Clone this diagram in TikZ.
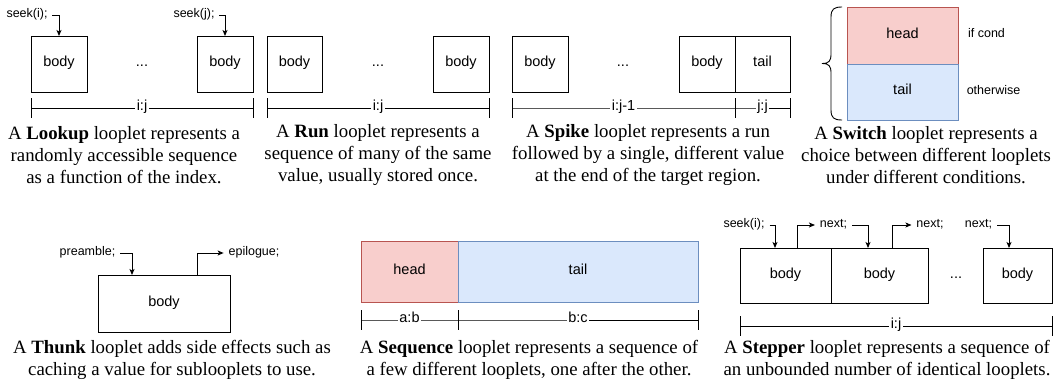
\documentclass[tikz,border=0pt]{standalone}
\usepackage{fontspec}
\setmainfont{Liberation Serif}
\setsansfont{Liberation Sans}
\usetikzlibrary{arrows.meta}
\definecolor{headfill}{HTML}{F8CECC}
\definecolor{headline}{HTML}{B85450}
\definecolor{tailfill}{HTML}{DAE8FC}
\definecolor{tailline}{HTML}{6C8EBF}
\begin{document}
\begin{tikzpicture}[x=1pt,y=-1pt,
  every node/.style={inner sep=0pt, outer sep=0pt},
  sf/.style={font=\sffamily\fontsize{14.5}{17}\selectfont, text height=0.72em, text depth=0.21em},
  sm/.style={font=\sffamily\fontsize{12.5}{15}\selectfont, text height=0.72em, text depth=0.21em, inner xsep=5pt},
  box/.style={draw, line width=0.9pt, sf},
  headbox/.style={box, fill=headfill, draw=headline},
  tailbox/.style={box, fill=tailfill, draw=tailline},
  rl/.style={sf, fill=white, inner xsep=1.5pt},
  captxt/.style={align=center, font=\fontsize{18.8}{22.2}\selectfont},
  arr/.style={line width=0.9pt, -{Stealth[length=6pt,width=5pt,inset=1.5pt]}},
  ln/.style={line width=0.9pt},
  tk/.style={line width=0.9pt},
]
\path[use as bounding box, fill=white] (0,0) rectangle (1064,380);

% ---------- Lookup ----------
\node[box,minimum width=56,minimum height=56] (L1) at (59,64) {body};
\node[box,minimum width=56,minimum height=56] (L2) at (225,64) {body};
\node[sf] (Ld) at (142,64) {...};
\node[sm] (Ls1) at (27,15) {seek(i);};
\node[sm] (Ls2) at (194,15) {seek(j);};
\draw[arr] (Ls1.east) -| (L1.north);
\draw[arr] (Ls2.east) -| (L2.north);
\coordinate (La) at (31,108);
\coordinate (Lb) at (253,108);
\draw[ln] (La) -- node[rl] {i:j} (Lb);
\draw[tk] ([yshift=10]La) -- ([yshift=-10]La);
\draw[tk] ([yshift=10]Lb) -- ([yshift=-10]Lb);
\node[captxt] (Lc) at (124,155) {A \textbf{Lookup} looplet represents a\\randomly accessible sequence\\as a function of the index.};

% ---------- Run ----------
\node[box,minimum width=55,minimum height=56] (R1) at (294.5,64) {body};
\node[box,minimum width=56,minimum height=56] (R2) at (461,64) {body};
\node[sf] (Rd) at (378,64) {...};
\coordinate (Ra) at (267,108);
\coordinate (Rb) at (489,108);
\draw[ln] (Ra) -- node[rl] {i:j} (Rb);
\draw[tk] ([yshift=10]Ra) -- ([yshift=-10]Ra);
\draw[tk] ([yshift=10]Rb) -- ([yshift=-10]Rb);
\node[captxt] (Rc) at (378,155) {A \textbf{Run} looplet represents a\\sequence of many of the same\\value, usually stored once.};

% ---------- Spike ----------
\node[box,minimum width=56,minimum height=56] (S1) at (540,64) {body};
\node[box,minimum width=56,minimum height=56] (S2) at (707,64) {body};
\node[box,minimum width=55,minimum height=56] (S3) at (762.5,64) {tail};
\node[sf] (Sd) at (623,64) {...};
\coordinate (Sa) at (512,108);
\coordinate (Sb) at (735,108);
\coordinate (Sc) at (790,108);
\draw[ln] (Sa) -- node[rl] {i:j-1} (Sb) -- node[rl] {j:j} (Sc);
\draw[tk] ([yshift=10]Sa) -- ([yshift=-10]Sa);
\draw[tk] ([yshift=10]Sb) -- ([yshift=-10]Sb);
\draw[tk] ([yshift=10]Sc) -- ([yshift=-10]Sc);
\node[captxt] (Sp) at (648,155) {A \textbf{Spike} looplet represents a run\\followed by a single, different value\\at the end of the target region.};

% ---------- Switch ----------
\node[headbox,minimum width=111,minimum height=57] (W1) at (902.5,35.5) {head};
\node[tailbox,minimum width=111,minimum height=56] (W2) at (902.5,92) {tail};
\node[sm] (Wc1) at (986.5,35) {if cond};
\node[sm] (Wc2) at (993.5,92) {otherwise};
\draw[ln] (842,7) .. controls (834,7) and (831,9) .. (831,17) -- (831,54)
  .. controls (831,61) and (829,63.5) .. (822,63.5)
  .. controls (829,63.5) and (831,66) .. (831,73) -- (831,110)
  .. controls (831,118) and (834,120) .. (842,120);
\node[captxt] (Wc) at (926,155) {A \textbf{Switch} looplet represents a\\choice between different looplets\\under different conditions.};

% ---------- Thunk ----------
\node[box,minimum width=132,minimum height=57] (T) at (164,303.5) {body};
\node[sm] (Tp) at (87.5,253) {preamble;};
\node[sm] (Te) at (254,253) {epilogue;};
\draw[arr] (Tp.east) -| ([xshift=-32]T.north);
\draw[arr] ([xshift=33]T.north) |- (Te.west);
\node[captxt] (Tc) at (172,360) {A \textbf{Thunk} looplet adds side effects such as\\caching a value for sublooplets to use.};

% ---------- Sequence ----------
\node[headbox,minimum width=97,minimum height=61] (Q1) at (409.5,271.5) {head};
\node[tailbox,minimum width=240,minimum height=61] (Q2) at (578,271.5) {tail};
\coordinate (Qa) at (361,320);
\coordinate (Qb) at (458,320);
\coordinate (Qc) at (698,320);
\draw[ln] (Qa) -- node[rl] {a:b} (Qb) -- node[rl] {b:c} (Qc);
\draw[tk] ([yshift=10]Qa) -- ([yshift=-10]Qa);
\draw[tk] ([yshift=10]Qb) -- ([yshift=-10]Qb);
\draw[tk] ([yshift=10]Qc) -- ([yshift=-10]Qc);
\node[captxt] (Qt) at (529,360) {A \textbf{Sequence} looplet represents a sequence of\\a few different looplets, one after the other.};

% ---------- Stepper ----------
\node[box,minimum width=91,minimum height=55] (P1) at (785.5,275.5) {body};
\node[box,minimum width=97,minimum height=55] (P2) at (879.5,275.5) {body};
\node[box,minimum width=69,minimum height=55] (P3) at (1017.5,275.5) {body};
\node[sf] (Pd) at (956,275.5) {...};
\node[sm] (Ps) at (744,225) {seek(i);};
\node[sm] (Pn1) at (833.5,225) {next;};
\node[sm] (Pn2) at (930,225) {next;};
\node[sm] (Pn3) at (978.5,225) {next;};
\draw[arr] (Ps.east) -| ([xshift=-10.5]P1.north);
\draw[arr] ([xshift=11.5]P1.north) |- (Pn1.west);
\draw[arr] (Pn1.east) -| ([xshift=-11.5]P2.north);
\draw[arr] ([xshift=12.5]P2.north) |- (Pn2.west);
\draw[arr] (Pn3.east) -| ([xshift=-8.5]P3.north);
\coordinate (Pa) at (740,326);
\coordinate (Pb) at (1052,326);
\draw[ln] (Pa) -- node[rl] {i:j} (Pb);
\draw[tk] ([yshift=10]Pa) -- ([yshift=-10]Pa);
\draw[tk] ([yshift=10]Pb) -- ([yshift=-10]Pb);
\node[captxt] (Pc) at (887,360) {A \textbf{Stepper} looplet represents a sequence of\\an unbounded number of identical looplets.};
\end{tikzpicture}
\end{document}
